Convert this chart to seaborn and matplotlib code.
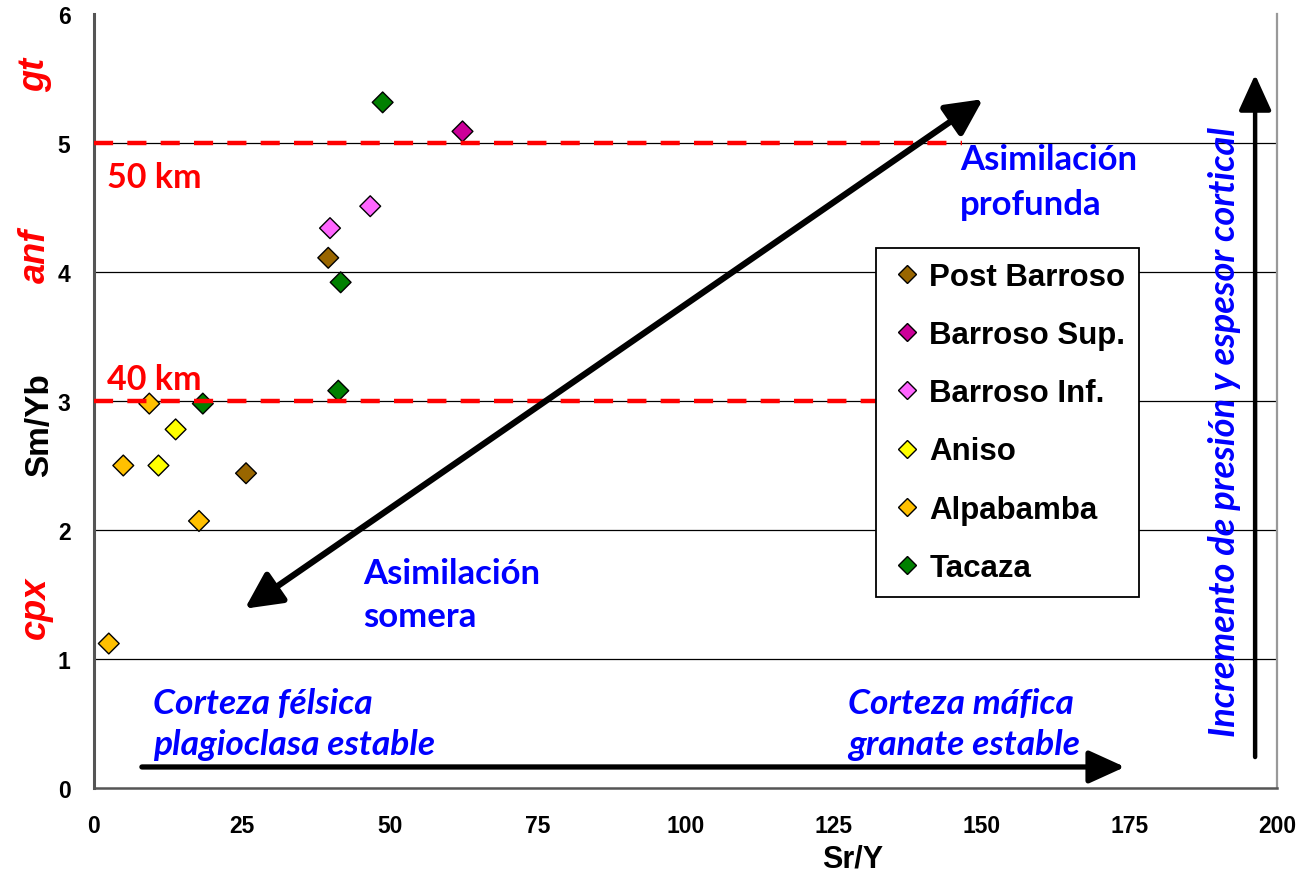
import matplotlib
matplotlib.use("Agg")
import matplotlib.pyplot as plt
import seaborn as sns
import pandas as pd

# ---- data ----
groups = ["Post Barroso", "Barroso Sup.", "Barroso Inf.", "Aniso", "Alpabamba", "Tacaza"]
colors = ["#996600", "#CC0099", "#FF66FF", "#FFFF00", "#FFC000", "#008000"]

post_barroso_x = [39.6, 25.7]
post_barroso_y = [4.11, 2.44]
barroso_sup_x = [62.3]
barroso_sup_y = [5.09]
barroso_inf_x = [39.9, 46.7]
barroso_inf_y = [4.34, 4.51]
aniso_x = [13.8, 10.9]
aniso_y = [2.78, 2.50]
alpabamba_x = [9.35, 4.95, 17.75, 2.5]
alpabamba_y = [2.98, 2.50, 2.07, 1.12]
tacaza_x = [48.8, 41.7, 41.3, 18.4]
tacaza_y = [5.315, 3.92, 3.08, 2.98]

depth_levels = [5, 3]
depth_labels = ["50 km", "40 km"]
x_ticks = [0, 25, 50, 75, 100, 125, 150, 175, 200]
y_ticks = [0, 1, 2, 3, 4, 5, 6]

xs = [post_barroso_x, barroso_sup_x, barroso_inf_x, aniso_x, alpabamba_x, tacaza_x]
ys = [post_barroso_y, barroso_sup_y, barroso_inf_y, aniso_y, alpabamba_y, tacaza_y]
rows = []
for g, gx, gy in zip(groups, xs, ys):
    for a, b in zip(gx, gy):
        rows.append({"Sr/Y": a, "Sm/Yb": b, "grupo": g})
df = pd.DataFrame(rows)

sns.set_theme(style="white")
plt.rcParams["font.family"] = ["Liberation Sans", "DejaVu Sans"]
plt.rcParams["text.color"] = "black"
plt.rcParams["axes.labelcolor"] = "black"
plt.rcParams["xtick.color"] = "black"
plt.rcParams["ytick.color"] = "black"

fig = plt.figure(figsize=(13.15, 8.78), dpi=100)
ax = fig.add_axes([94 / 1315, 1 - 789 / 878, 1183 / 1315, 774 / 878])

# grid lines
for yv in [1, 2, 3, 4, 5]:
    ax.axhline(yv, color="black", lw=0.9, zorder=1)

sns.scatterplot(data=df, x="Sr/Y", y="Sm/Yb", hue="grupo", hue_order=groups,
                palette=dict(zip(groups, colors)), marker="D", s=112,
                edgecolor="black", linewidth=1.0, ax=ax, zorder=3, legend=True)

# red dashed depth lines
for yv in depth_levels:
    ax.plot([0, 146.7], [yv, yv], color="#FF0000", lw=3.2, dashes=(4.3, 3.2), zorder=4)

ax.set_xlim(0, 200)
ax.set_ylim(0, 6)
ax.set_xticks(x_ticks)
ax.set_yticks(y_ticks)
ax.tick_params(axis="both", which="both", direction="out", length=7, width=1.5,
               color="#333333", labelsize=16.5, labelcolor="black")
ax.tick_params(axis="x", pad=12)
ax.tick_params(axis="y", pad=10)
for lab in ax.get_xticklabels() + ax.get_yticklabels():
    lab.set_fontweight("bold")

ax.spines["top"].set_visible(False)
ax.spines["left"].set_color("#555555")
ax.spines["left"].set_linewidth(2.2)
ax.spines["bottom"].set_color("#555555")
ax.spines["bottom"].set_linewidth(1.8)
ax.spines["right"].set_color("#999999")
ax.spines["right"].set_linewidth(1.6)

ax.set_xlabel("Sr/Y", fontsize=22, fontweight="bold", color="black")
ax.xaxis.set_label_coords(0.641, -0.072)
ax.set_ylabel("Sm/Yb", fontsize=24, fontweight="bold", color="black")
ax.yaxis.set_label_coords(-0.033, 0.47)

# depth labels
calibri = ["Lato", "DejaVu Sans"]
ax.text(2.2, 4.74, depth_labels[0], color="#FF0000", fontsize=24.5, fontweight="bold",
        family=calibri, va="center", ha="left", zorder=5)
ax.text(2.2, 3.17, depth_labels[1], color="#FF0000", fontsize=24.5, fontweight="bold",
        family=calibri, va="center", ha="left", zorder=5)

# blue annotations
blue = "#0000FF"
ax.text(146.4, 4.70, "Asimilación\nprofunda", color=blue, fontsize=25, fontweight="bold",
        family=calibri, va="center", ha="left", linespacing=1.5)
ax.text(45.5, 1.50, "Asimilación\nsomera", color=blue, fontsize=25, fontweight="bold",
        family=calibri, va="center", ha="left", linespacing=1.45)
ax.text(10.0, 0.50, "Corteza félsica\nplagioclasa estable", color=blue, fontsize=25.5,
        fontweight="bold", fontstyle="italic", family=calibri, va="center", ha="left",
        linespacing=1.33)
ax.text(127.5, 0.50, "Corteza máfica\ngranate estable", color=blue, fontsize=25.5,
        fontweight="bold", fontstyle="italic", family=calibri, va="center", ha="left",
        linespacing=1.33)
ax.text(191.2, 2.77, "Incremento de presión y espesor cortical", color=blue, fontsize=26,
        fontweight="bold", fontstyle="italic", family=calibri, va="center", ha="center",
        rotation=90)

# arrows
ax.annotate("", xy=(150.3, 5.34), xytext=(25.5, 1.39),
            arrowprops=dict(arrowstyle="<|-|>,head_length=1.1,head_width=0.55",
                            color="black", lw=4.5, shrinkA=0, shrinkB=0,
                            mutation_scale=20), zorder=6)
ax.annotate("", xy=(174.3, 0.163), xytext=(8.1, 0.163),
            arrowprops=dict(arrowstyle="-|>,head_length=1.1,head_width=0.5",
                            color="black", lw=3.8, shrinkA=0, shrinkB=0,
                            mutation_scale=20), zorder=6)
ax.annotate("", xy=(196.3, 5.53), xytext=(196.3, 0.24),
            arrowprops=dict(arrowstyle="-|>,head_length=1.1,head_width=0.5",
                            color="black", lw=3.2, shrinkA=0, shrinkB=0,
                            mutation_scale=20), zorder=6)

# red mineral labels left of axis
red_kw = dict(color="#FF0000", fontsize=26, fontweight="bold", fontstyle="italic",
              rotation=90, ha="center", va="center")
fig.text(35 / 1315, 1 - 75 / 878, "gt", **red_kw)
fig.text(35 / 1315, 1 - 256 / 878, "anf", **red_kw)
fig.text(35 / 1315, 1 - 608 / 878, "cpx", **red_kw)

# legend
handles, labels = ax.get_legend_handles_labels()
for h in handles:
    h.set_markersize(9.5)
    h.set_markeredgecolor("black")
    h.set_markeredgewidth(1.0)
leg = ax.legend(handles, labels, loc="upper left",
                bbox_to_anchor=(876 / 1315, 1 - 249 / 878), bbox_transform=fig.transFigure,
                frameon=True, fancybox=False, edgecolor="black", framealpha=1,
                prop=dict(family="Liberation Sans", weight="bold", size=22.5),
                labelspacing=0.9, handletextpad=0.15, handlelength=1.1,
                borderpad=0.45, borderaxespad=0)
for t in leg.get_texts():
    t.set_color("black")
leg.get_frame().set_linewidth(1.3)
leg.set_zorder(7)

fig.savefig("out.png", dpi=100)
